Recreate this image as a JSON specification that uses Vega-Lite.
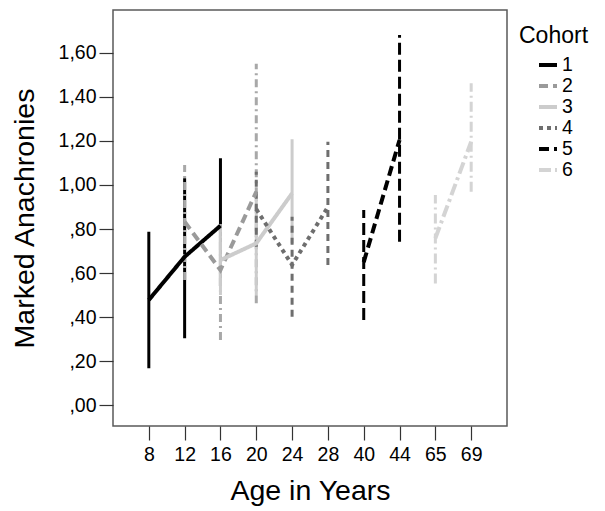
{
  "$schema": "https://vega.github.io/schema/vega-lite/v6.json",
  "width": 394,
  "height": 416,
  "autosize": "none",
  "padding": {"left": 113, "top": 10, "right": 98, "bottom": 85},
  "background": "white",
  "config": {
    "font": "Liberation Sans",
    "view": {"stroke": "#5a5a5a", "strokeWidth": 1.5},
    "axis": {"grid": false, "domain": false, "tickColor": "#333", "tickWidth": 1.2, "tickSize": 14, "labelColor": "#000", "titleColor": "#000", "labelFont": "Liberation Sans", "titleFont": "Liberation Sans", "titleFontWeight": "normal"}
  },
  "data": {
    "values": [
      {"cohort": "1", "age": 8, "mean": 0.478, "lo": 0.168, "hi": 0.788},
      {"cohort": "1", "age": 12, "mean": 0.674, "lo": 0.304, "hi": 1.03},
      {"cohort": "1", "age": 16, "mean": 0.815, "lo": 0.541, "hi": 1.121},
      {"cohort": "2", "age": 12, "mean": 0.833, "lo": 0.569, "hi": 1.09},
      {"cohort": "2", "age": 16, "mean": 0.614, "lo": 0.296, "hi": 0.833},
      {"cohort": "2", "age": 20, "mean": 0.969, "lo": 0.463, "hi": 1.55},
      {"cohort": "3", "age": 16, "mean": 0.659, "lo": 0.5, "hi": 0.81},
      {"cohort": "3", "age": 20, "mean": 0.735, "lo": 0.5, "hi": 0.969},
      {"cohort": "3", "age": 24, "mean": 0.962, "lo": 0.735, "hi": 1.207},
      {"cohort": "4", "age": 20, "mean": 0.89, "lo": 0.72, "hi": 1.06},
      {"cohort": "4", "age": 24, "mean": 0.637, "lo": 0.402, "hi": 0.856},
      {"cohort": "4", "age": 28, "mean": 0.9, "lo": 0.637, "hi": 1.196},
      {"cohort": "5", "age": 40, "mean": 0.65, "lo": 0.387, "hi": 0.886},
      {"cohort": "5", "age": 44, "mean": 1.204, "lo": 0.742, "hi": 1.68},
      {"cohort": "6", "age": 65, "mean": 0.758, "lo": 0.553, "hi": 0.954},
      {"cohort": "6", "age": 69, "mean": 1.196, "lo": 0.969, "hi": 1.461}
    ]
  },
  "encoding": {
    "x": {
      "field": "age", "type": "ordinal",
      "scale": {"type": "point", "padding": 1.065},
      "axis": {"title": "Age in Years", "labelAngle": 0, "labelFontSize": 19.5, "labelPadding": 5, "titleFontSize": 28.5, "titlePadding": 13}
    }
  },
  "layer": [
    {
      "mark": {"type": "rule", "strokeWidth": 3},
      "encoding": {
        "y": {
          "field": "lo", "type": "quantitative",
          "scale": {"domain": [-0.094, 1.794], "nice": false, "zero": false},
          "axis": {
            "title": "Marked Anachronies",
            "values": [0, 0.2, 0.4, 0.6, 0.8, 1.0, 1.2, 1.4, 1.6],
            "labelExpr": "datum.value < 1 ? replace(format(datum.value, '.2f'), '0.', ',') : replace(format(datum.value, '.2f'), '.', ',')",
            "labelFontSize": 19.5, "labelPadding": 3, "titleFontSize": 28.5, "titlePadding": 19
          }
        },
        "y2": {"field": "hi"},
        "color": {
          "field": "cohort", "type": "nominal",
          "scale": {"domain": ["1", "2", "3", "4", "5", "6"], "range": ["#000000", "#a8a8a8", "#cccccc", "#6e6e6e", "#000000", "#d4d4d4"]},
          "legend": null
        },
        "strokeDash": {
          "field": "cohort", "type": "nominal",
          "scale": {"domain": ["1", "2", "3", "4", "5", "6"], "range": [[1, 0], [8, 4, 2, 4], [1, 0], [7, 5], [12, 5], [10, 4, 2, 4]]},
          "legend": null
        }
      }
    },
    {
      "mark": {"type": "line", "strokeWidth": 4},
      "encoding": {
        "y": {"field": "mean", "type": "quantitative"},
        "color": {
          "field": "cohort", "type": "nominal",
          "scale": {"domain": ["1", "2", "3", "4", "5", "6"], "range": ["#000000", "#9a9a9a", "#cccccc", "#6e6e6e", "#000000", "#d4d4d4"]},
          "legend": {
            "title": "Cohort", "orient": "none", "legendX": 406, "legendY": 15,
            "titleFontSize": 23, "titleFontWeight": "normal", "titleColor": "#000", "titlePadding": 6,
            "labelFontSize": 19.5, "labelColor": "#000", "labelOffset": 3,
            "symbolType": "stroke", "symbolSize": 324, "symbolStrokeWidth": 4, "symbolOffset": 18,
            "rowPadding": 0, "padding": 0
          }
        },
        "strokeDash": {
          "field": "cohort", "type": "nominal",
          "scale": {"domain": ["1", "2", "3", "4", "5", "6"], "range": [[1, 0], [9, 5], [1, 0], [4, 4], [10, 5], [12, 4, 3, 4]]},
          "legend": {"title": "Cohort"}
        }
      }
    }
  ],
  "resolve": {"scale": {"color": "independent", "strokeDash": "independent"}}
}
